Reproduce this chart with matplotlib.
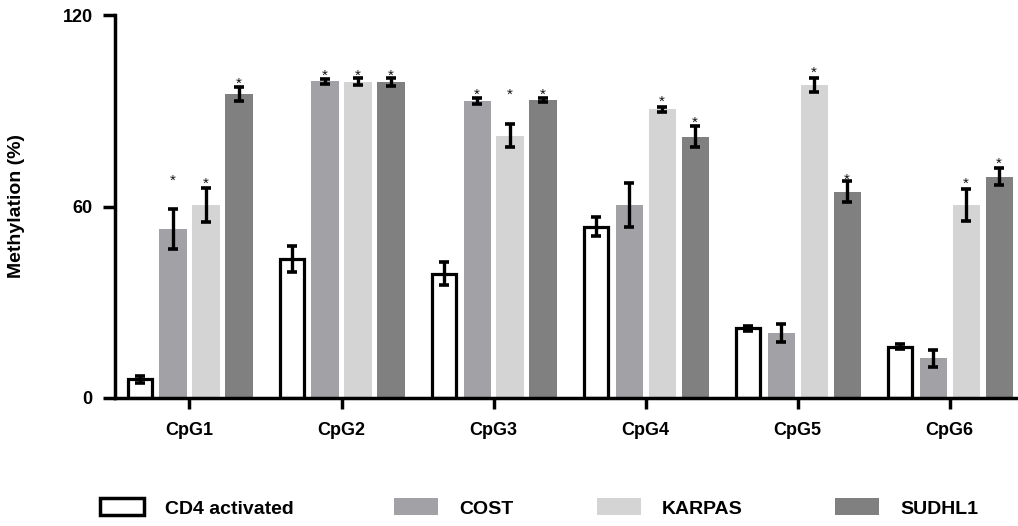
import matplotlib
matplotlib.use('Agg')
import matplotlib.pyplot as plt
import numpy as np
from matplotlib.patches import Patch

plt.rcParams['font.family'] = ['Liberation Sans', 'DejaVu Sans']

# ---------------- data ----------------
categories = ['CpG1', 'CpG2', 'CpG3', 'CpG4', 'CpG5', 'CpG6']
series = ['CD4 activated', 'COST', 'KARPAS', 'SUDHL1']

cd4 = [5.8, 43.6, 38.9, 53.7, 21.8, 16.0]
cd4_err = [1.0, 4.0, 3.6, 3.0, 0.7, 0.8]
cost = [53.0, 99.2, 93.1, 60.5, 20.4, 12.4]
cost_err = [6.3, 0.7, 1.0, 7.0, 2.9, 2.6]
karpas = [60.6, 99.1, 82.1, 90.5, 98.1, 60.6]
karpas_err = [5.3, 1.1, 3.6, 0.8, 2.2, 5.0]
sudhl1 = [95.2, 99.0, 93.3, 81.9, 64.6, 69.3]
sudhl1_err = [2.3, 1.3, 0.7, 3.4, 3.3, 2.7]

# significance asterisks (height of the mark; None = no mark)
cd4_star = [None, None, None, None, None, None]
cost_star = [68.4, 101.6, 95.6, None, None, None]
karpas_star = [67.5, 101.6, 95.6, 93.4, 102.5, 67.5]
sudhl1_star = [98.8, 101.6, 95.6, 86.6, 69.0, 73.8]

yticks = [0, 60, 120]
ylabel = 'Methylation (%)'

# ---------------- styling ----------------
values = [cd4, cost, karpas, sudhl1]
errors = [cd4_err, cost_err, karpas_err, sudhl1_err]
stars = [cd4_star, cost_star, karpas_star, sudhl1_star]
faces = ['white', '#a2a2a6', '#d4d4d4', '#808080']
edges = ['black', 'none', 'none', 'none']
edge_lw = [2.3, 0, 0, 0]

W, H = 1018, 526
fig = plt.figure(figsize=(W / 100, H / 100), dpi=100)
ax = fig.add_axes([115 / W, 128 / H, (W - 115) / W, (398 - 15) / H])

x = np.arange(len(categories))
step = 0.217
bw = 0.178
for i, (vals, errs, st) in enumerate(zip(values, errors, stars)):
    pos = x + (i - 1.5) * step
    w = bw if i else bw - 0.025
    ax.bar(pos, vals, width=w, color=faces[i], edgecolor=edges[i],
           linewidth=edge_lw[i], zorder=2)
    ax.errorbar(pos, vals, yerr=errs, fmt='none', ecolor='black',
                elinewidth=2.4, capsize=3.8, capthick=2.6, zorder=3)
    for p, s in zip(pos, st):
        if s is not None:
            ax.annotate('*', (p, s), xytext=(0, -4), textcoords='offset points',
                        ha='center', va='baseline', fontsize=11, color='#111111')

ax.set_xlim(-0.49, 5.45)
ax.set_ylim(0, 120)
ax.set_yticks(yticks)
ax.set_yticklabels([str(t) for t in yticks], fontsize=13, fontweight='bold')
ax.set_xticks(x)
ax.set_xticklabels(categories, fontsize=13, fontweight='bold')
for s in ['top', 'right']:
    ax.spines[s].set_visible(False)
for s in ['left', 'bottom']:
    ax.spines[s].set_linewidth(2.5)
ax.tick_params(axis='y', length=9, width=2.5, pad=7)
ax.tick_params(axis='x', length=8, width=2.5, pad=9)
ax.set_ylabel(ylabel, fontsize=14, fontweight='bold')
ax.yaxis.set_label_coords(-0.1, 0.5)

# legend: four entries placed along the bottom
leg_x = [100, 394, 597, 835]
for i, name in enumerate(series):
    h = Patch(facecolor=faces[i], edgecolor=edges[i] if i == 0 else faces[i],
              linewidth=2.5 if i == 0 else 0)
    fig.legend([h], [name], loc='center left',
               bbox_to_anchor=(leg_x[i] / W, 1 - 508 / H),
               frameon=False, borderpad=0, borderaxespad=0,
               handlelength=2.25, handleheight=0.95, handletextpad=1.1,
               prop={'size': 14, 'weight': 'bold'})

fig.savefig('out.png', dpi=100)
